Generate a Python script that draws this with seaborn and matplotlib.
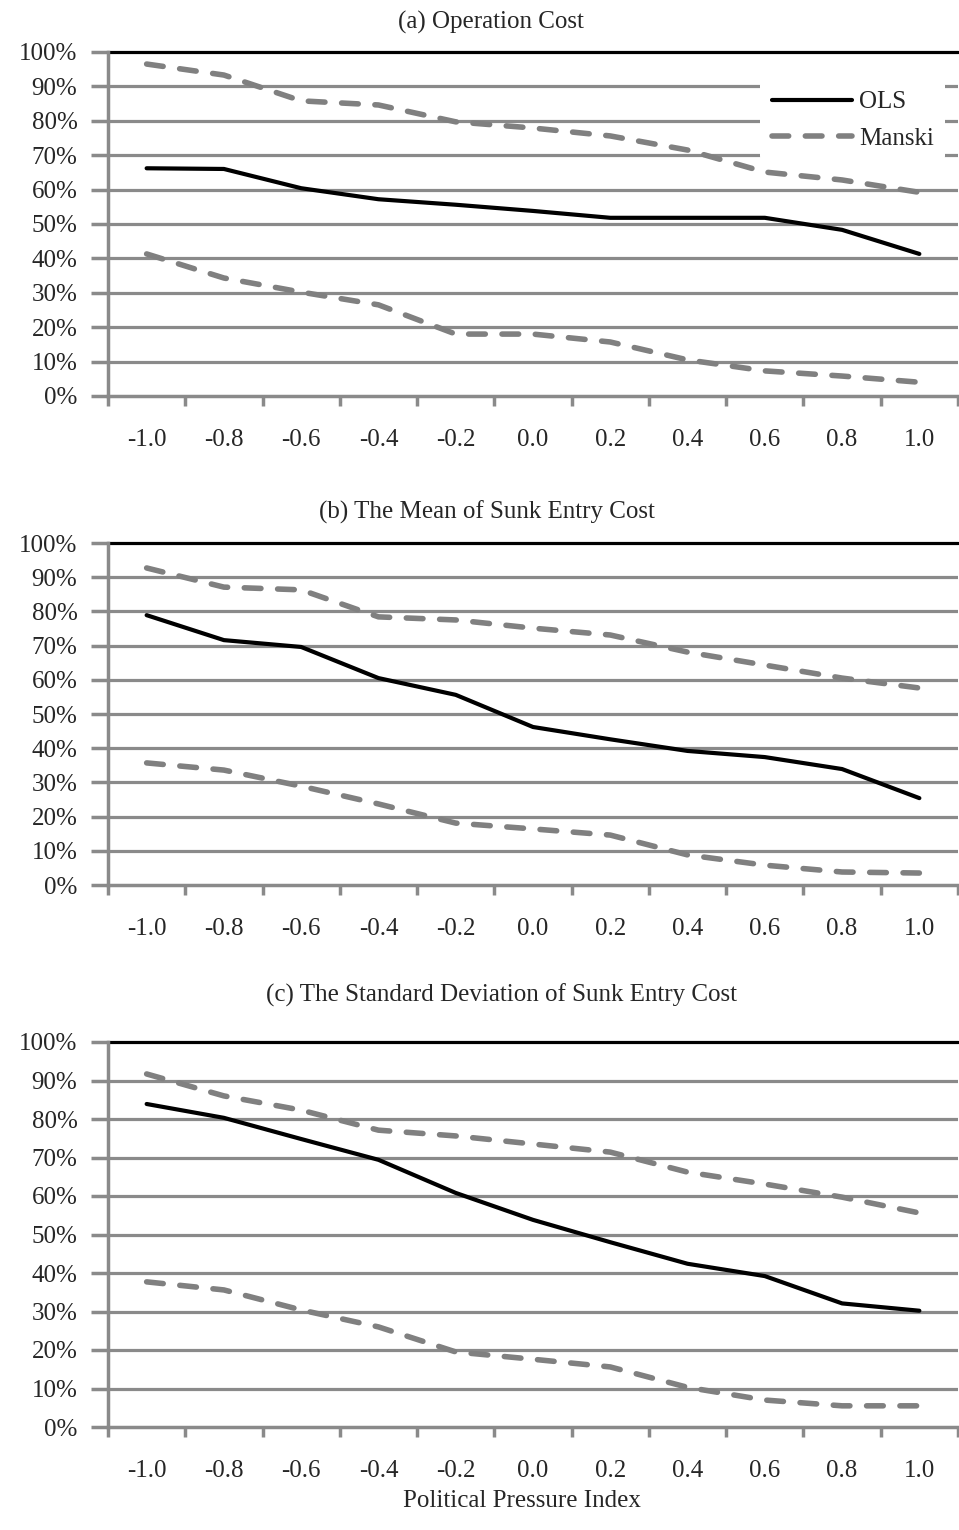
import numpy as np
import matplotlib
matplotlib.use("Agg")
import matplotlib.pyplot as plt
import seaborn as sns
from matplotlib.lines import Line2D

# political pressure index (category values on the x axis)
index_vals = [-1.0, -0.8, -0.6, -0.4, -0.2, 0.0, 0.2, 0.4, 0.6, 0.8, 1.0]
index_labels = ["-1.0", "-0.8", "-0.6", "-0.4", "-0.2", "0.0", "0.2", "0.4", "0.6", "0.8", "1.0"]

# (a) Operation Cost, percent
ols_a = [66.2, 66.0, 60.4, 57.2, 55.6, 53.8, 51.8, 51.8, 51.8, 48.3, 41.3]
manski_hi_a = [96.5, 93.3, 85.8, 84.6, 79.7, 77.9, 75.6, 71.5, 65.1, 62.8, 59.2]
manski_lo_a = [41.3, 34.3, 30.2, 26.5, 18.0, 18.0, 15.7, 10.5, 7.3, 5.8, 4.0]

# (b) The Mean of Sunk Entry Cost
ols_b = [78.9, 71.6, 69.6, 60.5, 55.6, 46.2, 42.6, 39.2, 37.4, 33.9, 25.4]
manski_hi_b = [92.7, 87.1, 86.3, 78.4, 77.5, 75.1, 73.1, 68.1, 64.3, 60.5, 57.6]
manski_lo_b = [35.7, 33.6, 28.9, 23.7, 18.1, 16.4, 14.6, 8.8, 5.8, 3.8, 3.5]

# (c) The Standard Deviation of Sunk Entry Cost
ols_c = [83.9, 80.3, 74.8, 69.4, 60.8, 53.8, 48.0, 42.4, 39.2, 32.1, 30.2]
manski_hi_c = [91.7, 86.0, 82.3, 77.1, 75.6, 73.5, 71.4, 66.2, 63.1, 59.7, 55.6]
manski_lo_c = [37.7, 35.6, 30.4, 26.0, 19.5, 17.6, 15.6, 10.3, 7.0, 5.5, 5.5]

titles = ["(a) Operation Cost",
          "(b) The Mean of Sunk Entry Cost",
          "(c) The Standard Deviation of Sunk Entry Cost"]

sns.set_style("white")
plt.rcParams["font.family"] = ["Liberation Serif", "DejaVu Serif"]

GRAY = "#8a8a8a"
LINE_GRAY = "#808080"
FS = 18
DASH = (3.0, 3.0)

fig = plt.figure(figsize=(9.59, 15.3), dpi=100)

# axes boxes in pixels: (top, bottom)
boxes = [(52, 396), (543, 885), (1042, 1427)]
title_pos = [(491, 22), (487, 512), (501, 995)]
left_px, right_px = 108, 958
W, H = 959, 1530

panels = [(ols_a, manski_hi_a, manski_lo_a),
          (ols_b, manski_hi_b, manski_lo_b),
          (ols_c, manski_hi_c, manski_lo_c)]

for i, ((top, bot), (ols, mhi, mlo)) in enumerate(zip(boxes, panels)):
    ax = fig.add_axes([left_px / W, 1 - bot / H, (right_px - left_px) / W, (bot - top) / H])

    for y in range(10, 100, 10):
        ax.axhline(y, color=GRAY, lw=2.3, zorder=1)
    ax.axhline(100, color="black", lw=2.3, zorder=1, clip_on=False)

    sns.lineplot(x=index_vals, y=mhi, ax=ax, color=LINE_GRAY, lw=4.0, zorder=3)
    sns.lineplot(x=index_vals, y=mlo, ax=ax, color=LINE_GRAY, lw=4.0, zorder=3)
    sns.lineplot(x=index_vals, y=ols, ax=ax, color="black", lw=3.0, zorder=4)
    for ln in ax.lines[-3:-1]:
        ln.set_dashes(DASH)
        ln.set_dash_capstyle("round")
    ax.lines[-1].set_solid_capstyle("round")

    ax.set_xlim(-1.1, 1.1)
    ax.set_ylim(0, 100)
    ax.set_yticks(range(0, 101, 10))
    ax.set_yticklabels([f"{v}%" for v in range(0, 101, 10)], fontsize=FS)
    ax.set_xticks(index_vals)
    ax.set_xticklabels(index_labels, fontsize=FS)
    ax.set_xticks(np.linspace(-1.1, 1.1, 12), minor=True)
    ax.tick_params(axis="x", which="major", length=0, pad=24)
    ax.tick_params(axis="x", which="minor", length=7, width=2.5, color=GRAY, direction="out")
    ax.tick_params(axis="y", length=12, width=2.5, color=GRAY, direction="out", pad=10)
    ax.yaxis.set_ticks_position("left")
    ax.xaxis.set_ticks_position("bottom")

    for side in ["top", "right"]:
        ax.spines[side].set_visible(False)
    for side in ["left", "bottom"]:
        ax.spines[side].set_color(GRAY)
        ax.spines[side].set_linewidth(2.5)
        ax.spines[side].set_zorder(2)
    ax.set_xlabel("")
    ax.set_ylabel("")

    tx, ty = title_pos[i]
    fig.text(tx / W, 1 - ty / H, titles[i], ha="center", va="center", fontsize=FS)

    if i == 0:
        handles = [Line2D([], [], color="black", lw=3.0),
                   Line2D([], [], color=LINE_GRAY, lw=4.0, dashes=DASH,
                          dash_capstyle="round")]
        leg = ax.legend(handles, ["OLS", "Manski"], loc="upper right",
                        bbox_to_anchor=(0.985, 0.92), fontsize=FS, frameon=True,
                        facecolor="white", edgecolor="none", framealpha=1,
                        handlelength=3.2, handletextpad=0.3, borderaxespad=0,
                        borderpad=0.45, labelspacing=0.55)
        leg.set_zorder(5)

fig.text(522 / W, 1 - 1501 / H, "Political Pressure Index", ha="center", va="center",
         fontsize=FS)

fig.savefig("out.png", dpi=100)
